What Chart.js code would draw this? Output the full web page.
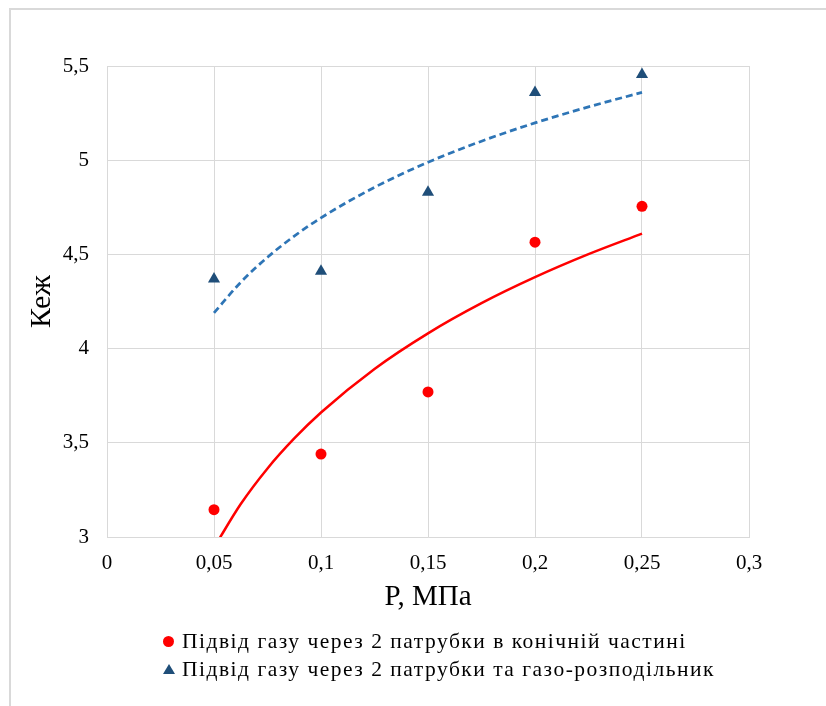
<!DOCTYPE html>
<html>
<head>
<meta charset="utf-8">
<script src="https://cdn.jsdelivr.net/npm/chart.js@4.4.1/dist/chart.umd.min.js"></script>
<style>
  html, body { margin: 0; padding: 0; background: #ffffff; }
  #wrap { position: relative; width: 826px; height: 706px; overflow: hidden; background: #fff; }
  #frame { position: absolute; left: 9px; top: 8px; width: 900px; height: 800px;
           border-top: 2px solid #d9d9d9; border-left: 2px solid #d9d9d9; box-sizing: border-box; }
  #c { position: absolute; left: 0; top: 0; }
  #legend { position: absolute; left: 163px; top: 627px; font-family: "Liberation Serif", "Times New Roman", serif;
            font-size: 21.5px; letter-spacing: 1.5px; color: #000; }
  .row { display: flex; align-items: center; height: 28px; line-height: 28px; white-space: nowrap; }
  .mk { width: 12px; height: 12px; margin-right: 7px; position: relative; flex: none; }
  .circ { width: 11px; height: 11px; border-radius: 50%; position: absolute; left: 0; top: 0.5px; }
  .tri { width: 0; height: 0; position: absolute; left: 0; top: 1px;
         border-left: 6px solid transparent; border-right: 6px solid transparent; border-bottom: 10px solid #1f4e79; }
</style>
</head>
<body>
<div id="wrap">
  <div id="frame"></div>
  <canvas id="c" width="826" height="706"></canvas>
  <div id="legend"></div>
</div>
<script>
// ---- data ----
const pressure = [0.05, 0.1, 0.15, 0.2, 0.25];
const kezConical = [3.145, 3.44, 3.77, 4.565, 4.755];
const kezDistributor = [4.37, 4.41, 4.83, 5.36, 5.455];

// trend lines
const trendX = [0.05, 0.0625, 0.075, 0.0875, 0.1, 0.125, 0.15, 0.175, 0.2, 0.225, 0.25];
const trendConical = [2.944, 3.175, 3.364, 3.523, 3.661, 3.892, 4.081, 4.241, 4.379, 4.501, 4.61];
const trendDistributor = [4.19, 4.352, 4.485, 4.597, 4.694, 4.856, 4.989, 5.101, 5.198, 5.283, 5.36];

const seriesLabels = [
  'Підвід газу через 2 патрубки в конічній частині',
  'Підвід газу через 2 патрубки та газо-розподільник'
];
const xTickLabels = ['0', '0,05', '0,1', '0,15', '0,2', '0,25', '0,3'];
const yTickLabels = ['3', '3,5', '4', '4,5', '5', '5,5'];
const xTitle = 'P, МПа';
const yTitle = 'Кеж';

const pts = (xs, ys) => xs.map((x, i) => ({ x: x, y: ys[i] }));
const serif = '"Liberation Serif", "Times New Roman", serif';
const gridColor = '#d9d9d9';

const chart = new Chart(document.getElementById('c'), {
  type: 'scatter',
  data: {
    datasets: [
      { label: seriesLabels[0], data: pts(pressure, kezConical), pointStyle: 'circle',
        pointRadius: 5.5, pointHoverRadius: 5.5, backgroundColor: '#ff0000', borderColor: '#ff0000', borderWidth: 0, showLine: false },
      { label: seriesLabels[1], data: pts(pressure, kezDistributor), pointStyle: 'triangle',
        pointRadius: 7, pointHoverRadius: 7, backgroundColor: '#1f4e79', borderColor: '#1f4e79', borderWidth: 0, showLine: false },
      { label: 'trend1', data: pts(trendX, trendConical), showLine: true, pointRadius: 0,
        borderColor: '#ff0000', borderWidth: 2.5, cubicInterpolationMode: 'monotone', fill: false },
      { label: 'trend2', data: pts(trendX, trendDistributor), showLine: true, pointRadius: 0,
        borderColor: '#2e75b6', borderWidth: 2.75, borderDash: [7, 4], cubicInterpolationMode: 'monotone', fill: false }
    ]
  },
  options: {
    responsive: false,
    animation: false,
    events: [],
    layout: { padding: { top: 66, right: 77, left: 0, bottom: 89 } },
    plugins: { legend: { display: false }, tooltip: { enabled: false } },
    scales: {
      x: {
        type: 'linear', min: 0, max: 0.3,
        afterFit: s => { s.height = 80; },
        grid: { color: gridColor, lineWidth: 1, drawTicks: false },
        border: { color: gridColor, width: 1 },
        ticks: { stepSize: 0.05, padding: 14, color: '#000', font: { family: serif, size: 21 },
                 callback: (v, i) => xTickLabels[i] },
        title: { display: true, text: xTitle, color: '#000', font: { family: serif, size: 29 },
                 padding: { top: 0, bottom: 2.5 } }
      },
      y: {
        type: 'linear', min: 3, max: 5.5,
        afterFit: s => { s.width = 107; },
        grid: { color: gridColor, lineWidth: 1, drawTicks: false },
        border: { color: gridColor, width: 1 },
        ticks: { stepSize: 0.5, padding: 18, color: '#000', font: { family: serif, size: 21 },
                 callback: (v, i) => yTickLabels[i] },
        title: { display: true, text: yTitle, color: '#000', font: { family: serif, size: 30 },
                 padding: { top: 24, bottom: 0 } }
      }
    }
  }
});

// HTML legend built from the chart's series
const leg = document.getElementById('legend');
chart.data.datasets.slice(0, 2).forEach((ds, i) => {
  const row = document.createElement('div');
  row.className = 'row';
  const mk = document.createElement('span');
  mk.className = 'mk';
  const shape = document.createElement('span');
  if (ds.pointStyle === 'circle') { shape.className = 'circ'; shape.style.background = ds.backgroundColor; }
  else { shape.className = 'tri'; }
  mk.appendChild(shape);
  const txt = document.createElement('span');
  txt.textContent = ds.label;
  row.appendChild(mk);
  row.appendChild(txt);
  leg.appendChild(row);
});
</script>
</body>
</html>
